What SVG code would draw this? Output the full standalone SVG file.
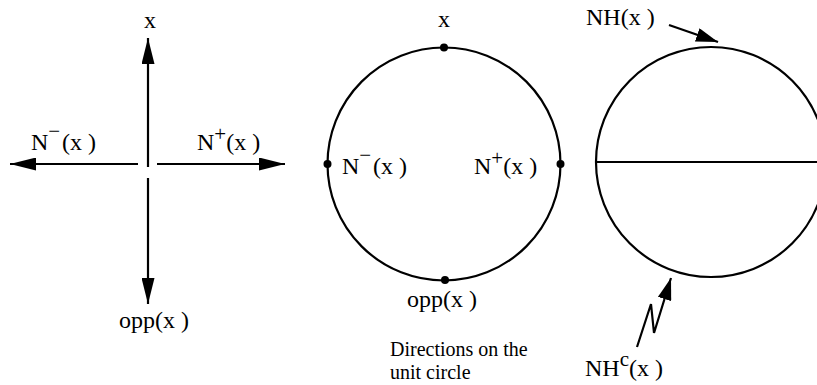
<svg xmlns="http://www.w3.org/2000/svg" width="817" height="385" viewBox="0 0 817 385">
<style>
text{font-family:"Liberation Serif",serif;font-size:24px;fill:#000}
.sup{font-size:21px}
.cap{font-size:20px}
.ln{stroke:#000;stroke-width:2.2;fill:none}
.dot{fill:#000}
</style>
<defs>
<marker id="ah" viewBox="0 0 26 13" refX="26" refY="6.5" markerWidth="26" markerHeight="13" markerUnits="userSpaceOnUse" orient="auto">
<path d="M0,0 L26,6.5 L0,13 Z" fill="#000"/>
</marker>
<marker id="ah2" viewBox="0 0 22 14" refX="22" refY="7" markerWidth="22" markerHeight="14" markerUnits="userSpaceOnUse" orient="auto">
<path d="M0,0 L22,7 L0,14 Z" fill="#000"/>
</marker>
</defs>
<g id="connectors">
<line class="ln" x1="148" y1="167" x2="148" y2="38" marker-end="url(#ah)"/>
<line class="ln" x1="148" y1="178" x2="148" y2="304" marker-end="url(#ah)"/>
<line class="ln" x1="138" y1="164" x2="10" y2="164" marker-end="url(#ah)"/>
<line class="ln" x1="157" y1="164" x2="285" y2="164" marker-end="url(#ah)"/>
<line class="ln" x1="669" y1="25" x2="718" y2="42" marker-end="url(#ah2)"/>
<polyline class="ln" points="637,347 651,304 654,333 671,278" marker-end="url(#ah2)"/>
</g>
<g id="cross-labels">
<text x="150" y="28" text-anchor="middle">x</text>
<text x="31" y="150">N<tspan class="sup" dy="-12">−</tspan><tspan dy="12" x="62">(x )</tspan></text>
<text x="197" y="150">N<tspan class="sup" dy="-9">+</tspan><tspan dy="9">(x )</tspan></text>
<text x="119" y="328">opp(x )</text>
</g>
<g id="unit-circle">
<circle class="ln" cx="444" cy="164" r="116.5"/>
<circle class="dot" cx="444" cy="47.5" r="4"/>
<circle class="dot" cx="327.5" cy="164" r="4"/>
<circle class="dot" cx="560.5" cy="164" r="4"/>
<circle class="dot" cx="445" cy="280" r="4"/>
<text x="444" y="27" text-anchor="middle">x</text>
<text x="342" y="174">N<tspan class="sup" dy="-12">−</tspan><tspan dy="12" x="373">(x )</tspan></text>
<text x="474" y="174">N<tspan class="sup" dy="-9">+</tspan><tspan dy="9">(x )</tspan></text>
<text x="407" y="307">opp(x )</text>
<text class="cap" x="390" y="356">Directions on the</text>
<text class="cap" x="390" y="379">unit circle</text>
</g>
<g id="half-circle">
<circle class="ln" cx="711" cy="162" r="115"/>
<line class="ln" x1="596" y1="162" x2="817" y2="162"/>
<text x="586" y="25">NH(x )</text>
<text x="585" y="376">NH<tspan class="sup" dy="-10">c</tspan><tspan dy="10">(x )</tspan></text>
</g>
</svg>
